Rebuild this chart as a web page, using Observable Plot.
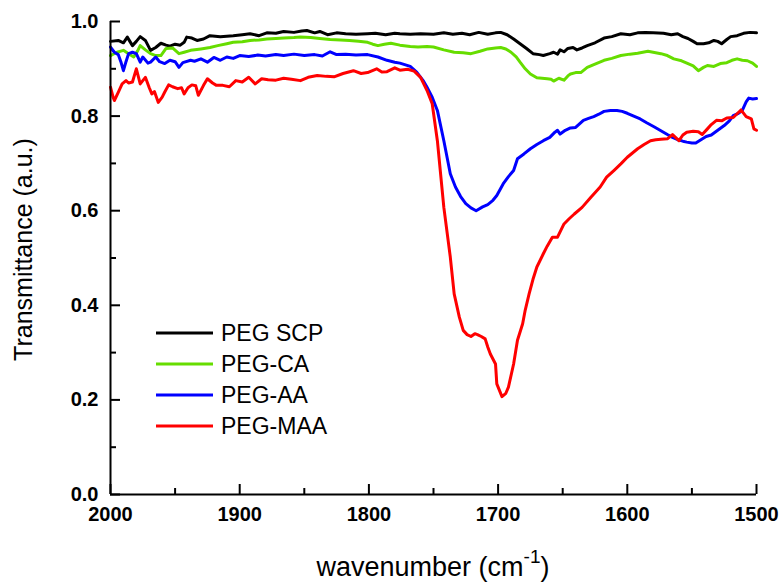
<!DOCTYPE html>
<html>
<head>
<meta charset="utf-8">
<script src="https://cdn.jsdelivr.net/npm/d3@7"></script>
<script src="https://cdn.jsdelivr.net/npm/@observablehq/plot@0.6"></script>
<style>
  html, body { margin: 0; padding: 0; background: #fff; }
  #chart { width: 779px; height: 582px; }
</style>
</head>
<body>
<div id="chart"></div>
<script>
// ---- data ----
const seriesNames = ["PEG SCP", "PEG-CA", "PEG-AA", "PEG-MAA"];
const seriesColors = ["#000000", "#66dd00", "#0000ff", "#ff0000"];

const xTicks = [2000, 1900, 1800, 1700, 1600, 1500];
const xMinorTicks = [1950, 1850, 1750, 1650, 1550];
const yTicks = [0.0, 0.2, 0.4, 0.6, 0.8, 1.0];
const yMinorTicks = [0.1, 0.3, 0.5, 0.7, 0.9];

const scpWn = [2000,1994,1990,1987,1983,1980,1977,1973,1969,1965,1961,1957,1954,1950,1946,1943,1941,1937,1933,1928,1923,1915,1905,1898,1892,1885,1879,1872,1866,1858,1852,1848,1842,1838,1832,1825,1818,1810,1801,1795,1787,1780,1776,1768,1760,1750,1742,1735,1728,1722,1715,1708,1702,1698,1693,1688,1683,1678,1673,1668,1665,1660,1657,1654,1652,1649,1646,1642,1639,1635,1631,1625,1618,1612,1605,1598,1592,1586,1580,1572,1566,1561,1557,1553,1549,1546,1541,1537,1533,1530,1527,1523,1520,1515,1510,1505,1500];
const scpT = [0.958,0.960,0.955,0.967,0.949,0.958,0.968,0.960,0.939,0.945,0.954,0.950,0.948,0.952,0.950,0.956,0.967,0.965,0.960,0.963,0.970,0.968,0.970,0.972,0.974,0.970,0.976,0.975,0.979,0.977,0.980,0.981,0.976,0.979,0.972,0.976,0.974,0.973,0.974,0.975,0.972,0.975,0.974,0.973,0.974,0.973,0.976,0.973,0.975,0.972,0.977,0.973,0.976,0.977,0.972,0.963,0.953,0.943,0.932,0.930,0.928,0.932,0.935,0.931,0.940,0.936,0.943,0.945,0.940,0.944,0.949,0.955,0.965,0.968,0.974,0.972,0.976,0.977,0.976,0.975,0.972,0.974,0.968,0.964,0.958,0.953,0.953,0.955,0.960,0.958,0.953,0.962,0.968,0.970,0.975,0.977,0.976];

const caWn = [2000,1995,1990,1986,1982,1979,1977,1973,1969,1965,1961,1957,1952,1947,1943,1938,1930,1923,1917,1910,1905,1898,1892,1885,1879,1872,1866,1858,1853,1845,1838,1830,1822,1815,1808,1801,1797,1793,1788,1783,1776,1768,1762,1755,1750,1742,1734,1727,1721,1714,1708,1702,1698,1694,1690,1686,1683,1679,1675,1670,1666,1662,1659,1657,1653,1649,1646,1644,1640,1636,1631,1625,1618,1612,1605,1598,1592,1584,1578,1574,1569,1564,1558,1553,1549,1545,1541,1538,1533,1528,1523,1519,1515,1511,1507,1503,1500];
const caT = [0.928,0.935,0.939,0.932,0.925,0.938,0.949,0.940,0.932,0.928,0.928,0.943,0.944,0.932,0.935,0.939,0.942,0.945,0.949,0.953,0.956,0.957,0.960,0.961,0.963,0.964,0.965,0.966,0.967,0.966,0.964,0.962,0.961,0.960,0.958,0.956,0.952,0.949,0.952,0.954,0.950,0.947,0.946,0.947,0.946,0.940,0.935,0.934,0.932,0.937,0.942,0.944,0.945,0.942,0.935,0.925,0.914,0.900,0.889,0.881,0.880,0.879,0.878,0.874,0.880,0.876,0.885,0.889,0.892,0.892,0.903,0.910,0.918,0.922,0.928,0.931,0.933,0.937,0.934,0.932,0.928,0.921,0.917,0.911,0.906,0.896,0.903,0.907,0.905,0.911,0.913,0.918,0.921,0.918,0.917,0.912,0.905];

const aaWn = [2000,1997,1994,1992,1990,1988,1986,1983,1980,1977,1975,1971,1969,1965,1962,1958,1954,1950,1947,1944,1938,1935,1930,1925,1920,1915,1910,1905,1900,1893,1886,1880,1872,1866,1858,1850,1842,1836,1830,1825,1818,1810,1801,1793,1786,1780,1776,1768,1763,1758,1755,1751,1747,1742,1737,1733,1729,1725,1721,1717,1712,1708,1704,1701,1696,1692,1688,1685,1680,1675,1670,1665,1660,1656,1654,1652,1648,1644,1640,1634,1630,1626,1622,1618,1613,1608,1604,1600,1595,1590,1585,1579,1574,1569,1565,1561,1557,1554,1550,1547,1543,1539,1535,1530,1525,1521,1518,1514,1511,1508,1506,1503,1500];
const aaT = [0.946,0.935,0.930,0.915,0.896,0.915,0.932,0.935,0.932,0.914,0.925,0.912,0.914,0.925,0.915,0.911,0.918,0.915,0.903,0.913,0.918,0.916,0.921,0.914,0.924,0.918,0.925,0.922,0.928,0.926,0.929,0.927,0.930,0.928,0.931,0.928,0.930,0.927,0.936,0.930,0.931,0.929,0.930,0.925,0.918,0.914,0.912,0.905,0.893,0.875,0.861,0.840,0.812,0.748,0.678,0.650,0.630,0.615,0.606,0.600,0.608,0.613,0.622,0.632,0.657,0.672,0.685,0.710,0.720,0.731,0.740,0.748,0.755,0.766,0.770,0.762,0.770,0.775,0.776,0.791,0.795,0.799,0.804,0.810,0.812,0.812,0.810,0.806,0.800,0.794,0.786,0.777,0.769,0.761,0.755,0.750,0.747,0.745,0.743,0.743,0.750,0.757,0.760,0.770,0.780,0.790,0.801,0.806,0.812,0.830,0.838,0.836,0.837];

const maaWn = [2000,1998,1997,1994,1991,1988,1986,1983,1980,1977,1975,1973,1970,1968,1966,1963,1960,1958,1955,1952,1948,1945,1943,1940,1937,1934,1932,1928,1925,1921,1918,1913,1908,1903,1898,1893,1888,1883,1878,1872,1866,1860,1853,1847,1840,1833,1827,1820,1812,1806,1801,1794,1790,1786,1780,1776,1770,1765,1760,1755,1751,1747,1742,1737,1734,1730,1727,1724,1721,1718,1716,1713,1710,1708,1706,1702,1701,1697,1694,1692,1688,1685,1681,1679,1676,1673,1670,1665,1662,1658,1654,1649,1645,1641,1635,1628,1621,1616,1610,1605,1600,1596,1592,1587,1582,1578,1574,1569,1565,1560,1557,1554,1549,1545,1542,1538,1535,1531,1527,1523,1518,1512,1508,1504,1502,1500];
const maaT = [0.861,0.840,0.833,0.850,0.868,0.875,0.870,0.872,0.900,0.868,0.875,0.882,0.860,0.847,0.852,0.829,0.840,0.851,0.866,0.862,0.858,0.860,0.847,0.860,0.866,0.864,0.844,0.865,0.879,0.870,0.865,0.865,0.862,0.875,0.872,0.882,0.868,0.879,0.877,0.876,0.880,0.878,0.875,0.882,0.886,0.884,0.883,0.890,0.896,0.890,0.892,0.900,0.893,0.894,0.902,0.897,0.899,0.895,0.882,0.854,0.826,0.748,0.607,0.502,0.424,0.375,0.347,0.338,0.334,0.340,0.338,0.334,0.329,0.312,0.297,0.276,0.234,0.207,0.214,0.227,0.276,0.326,0.361,0.390,0.424,0.455,0.481,0.509,0.525,0.544,0.544,0.572,0.583,0.593,0.607,0.629,0.650,0.671,0.686,0.699,0.713,0.722,0.731,0.740,0.748,0.750,0.751,0.752,0.761,0.748,0.760,0.766,0.768,0.767,0.761,0.773,0.782,0.791,0.790,0.796,0.797,0.813,0.799,0.794,0.773,0.770];

// ---- build table ----
const seriesData = [[scpWn, scpT], [caWn, caT], [aaWn, aaT], [maaWn, maaT]];
const rows = [];
seriesData.forEach(([wn, t], i) => {
  wn.forEach((w, j) => rows.push({series: seriesNames[i], wn: w, t: t[j]}));
});

// ---- layout ----
const W = 779, H = 582;
const mL = 110, mR = 23, mT = 21, mB = 88;
const plotW = W - mL - mR, plotH = H - mT - mB;
const FONT = "'Liberation Sans', Arial, Helvetica, sans-serif";

const svg = Plot.plot({
  width: W, height: H,
  marginLeft: mL, marginRight: mR, marginTop: mT, marginBottom: mB,
  style: {fontFamily: FONT, background: "#fff", color: "#000", overflow: "visible"},
  x: {domain: [2000, 1500], axis: null},
  y: {domain: [0, 1], axis: null},
  color: {domain: seriesNames, range: seriesColors},
  marks: [
    Plot.axisX(xTicks, {tickSize: 0, tickPadding: 12, tickFormat: d3.format("d"), fontSize: 20, fontWeight: "bold", label: null, fill: "#000"}),
    Plot.axisY(yTicks, {tickSize: 0, tickPadding: 12, tickFormat: d3.format(".1f"), fontSize: 20, fontWeight: "bold", label: null, fill: "#000"}),
    Plot.ruleX(xTicks, {x: d => d, insetTop: plotH - 10, stroke: "#000", strokeWidth: 2}),
    Plot.ruleX(xMinorTicks, {x: d => d, insetTop: plotH - 6, stroke: "#000", strokeWidth: 2}),
    Plot.ruleY(yTicks, {y: d => d, insetRight: plotW - 10, stroke: "#000", strokeWidth: 2}),
    Plot.ruleY(yMinorTicks, {y: d => d, insetRight: plotW - 6, stroke: "#000", strokeWidth: 2}),
    Plot.line(rows, {x: "wn", y: "t", z: "series", stroke: "series", strokeWidth: 3, strokeLinejoin: "round", strokeLinecap: "round"}),
    Plot.ruleY([0], {stroke: "#000", strokeWidth: 2}),
    Plot.ruleX([2000], {stroke: "#000", strokeWidth: 2})
  ]
});

const s = d3.select(svg);

// axis titles
const xt = s.append("text")
  .attr("x", mL + plotW / 2).attr("y", 576)
  .attr("text-anchor", "middle")
  .attr("font-family", FONT).attr("font-size", 27).attr("fill", "#000")
  .text("wavenumber (cm");
xt.append("tspan").attr("font-size", 19).attr("dy", -13).text("-1");
xt.append("tspan").attr("font-size", 27).attr("dy", 13).text(")");

s.append("text")
  .attr("transform", `translate(32,${mT + plotH / 2 - 8}) rotate(-90)`)
  .attr("text-anchor", "middle")
  .attr("font-family", FONT).attr("font-size", 25).attr("fill", "#000")
  .text("Transmittance (a.u.)");

// legend
const lg = s.append("g");
seriesNames.forEach((name, i) => {
  const yy = 333 + i * 31;
  lg.append("line").attr("x1", 156).attr("x2", 213).attr("y1", yy).attr("y2", yy)
    .attr("stroke", seriesColors[i]).attr("stroke-width", 3);
  lg.append("text").attr("x", 221).attr("y", yy + 8)
    .attr("text-anchor", "start")
    .attr("font-family", FONT).attr("font-size", 23).attr("fill", "#000")
    .text(name);
});

document.getElementById("chart").appendChild(svg);
</script>
</body>
</html>
